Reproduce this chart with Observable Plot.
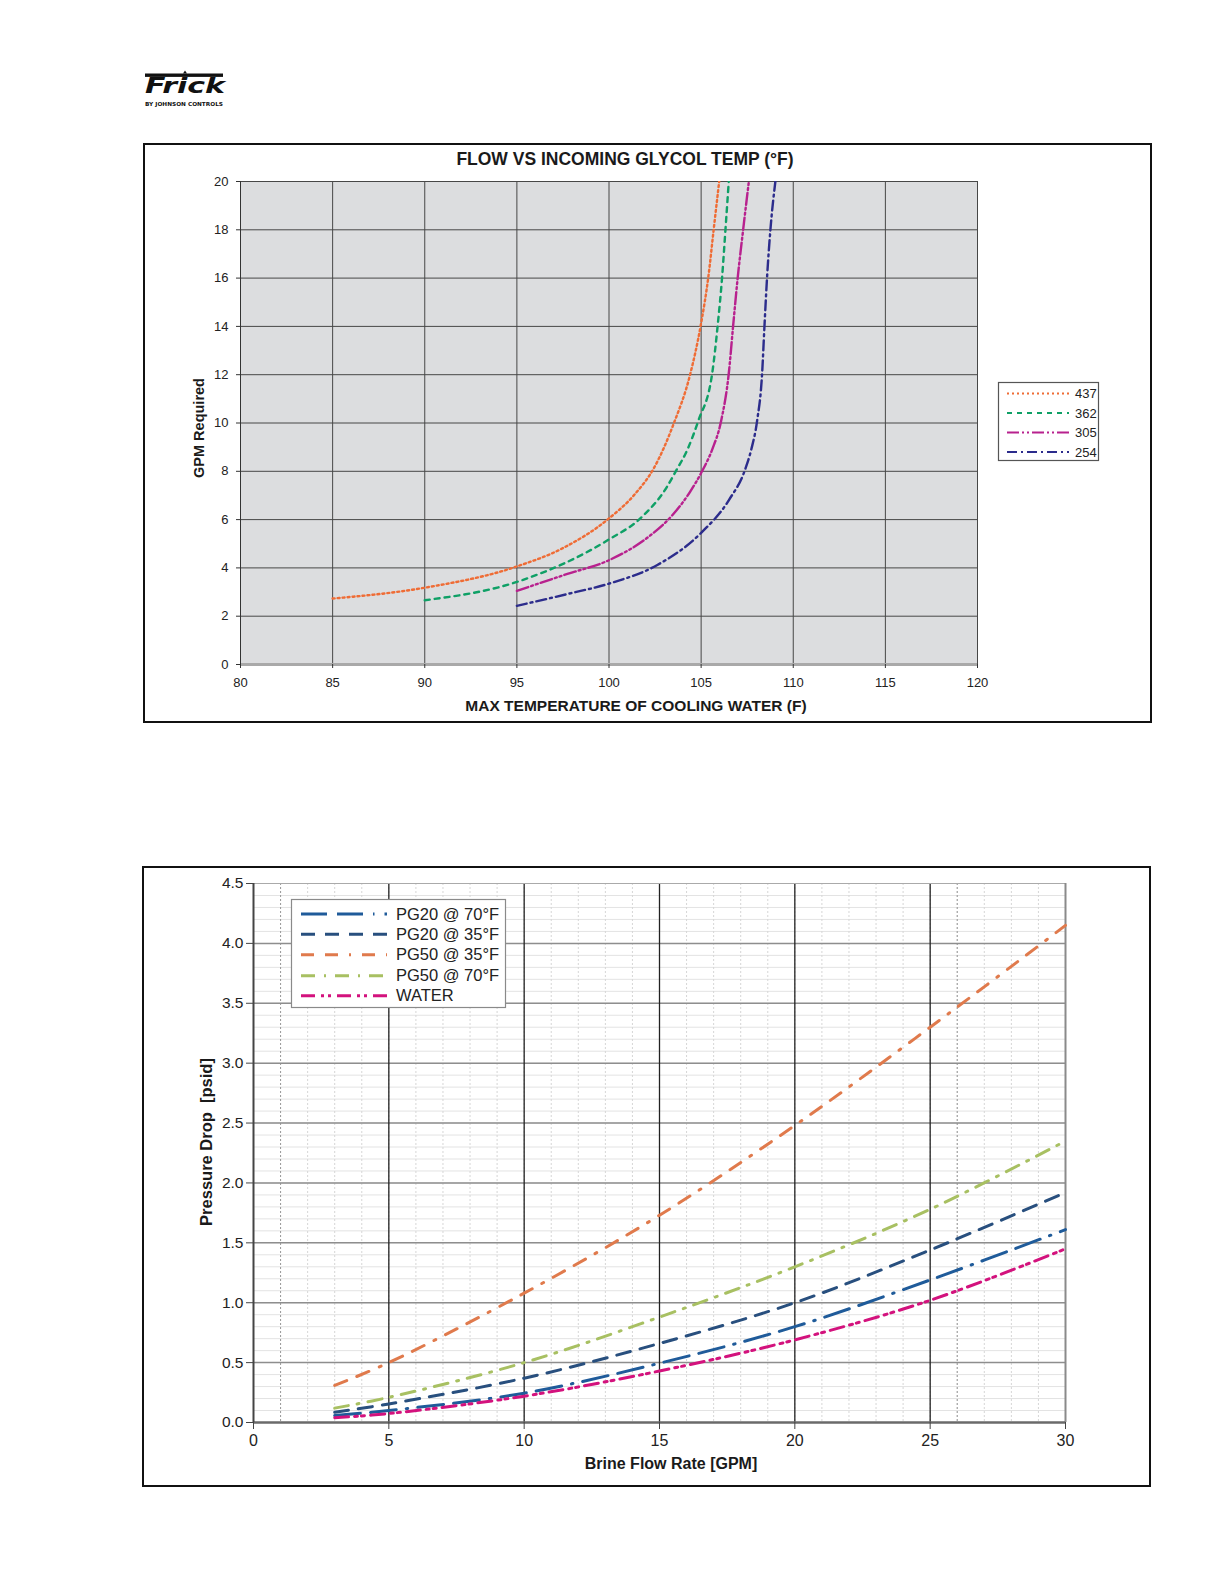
<!DOCTYPE html>
<html><head><meta charset="utf-8">
<script src="https://cdn.jsdelivr.net/npm/d3@7"></script>
<script src="https://cdn.jsdelivr.net/npm/@observablehq/plot@0.6"></script>
<style>
body{margin:0;background:#fff;}
#page{position:relative;width:1224px;height:1584px;overflow:hidden;font-family:"Liberation Sans",Arial,sans-serif;color:#222;background:#fff;}
.abs{position:absolute;}
.box{position:absolute;border:2px solid #111;box-sizing:border-box;}
.ctr{position:absolute;transform:translate(-50%,-50%);white-space:pre;line-height:1;font-weight:bold;color:#1a1a1a;}
.rot{transform:translate(-50%,-50%) rotate(-90deg);}
svg{overflow:visible;}
</style></head><body><div id="page"></div>
<script>
// ---------- DATA: top chart ----------
const topXTicks = [80, 85, 90, 95, 100, 105, 110, 115, 120];
const topYTicks = [0, 2, 4, 6, 8, 10, 12, 14, 16, 18, 20];
const topSeries = ["437", "362", "305", "254"];
const t437x = [85, 90, 95, 97.5, 100, 101.4, 102.45, 103.5, 104.4, 104.98, 105.4, 105.68, 105.98];
const t437y = [2.73, 3.18, 4.06, 4.82, 6.05, 7.05, 8.15, 9.95, 12.0, 14.05, 16.1, 18.0, 20.0];
const t362x = [90, 95, 100, 101.7, 103.15, 103.66, 104.24, 104.85, 105.6, 105.9, 106.14, 106.32, 106.5];
const t362y = [2.66, 3.42, 5.18, 6.05, 7.36, 8.05, 8.87, 10.1, 12.05, 14.05, 16.05, 18.0, 20.0];
const t305x = [95, 97.7, 100, 102.25, 103.4, 104.4, 105.05, 105.6, 106.09, 106.5, 106.74, 106.99, 107.28, 107.59];
const t305y = [3.05, 3.74, 4.32, 5.35, 6.15, 7.15, 8.0, 8.9, 10.1, 12.05, 14.05, 16.05, 18.0, 20.0];
const t254x = [95, 97.7, 100, 102.6, 105, 106.5, 107.4, 107.72, 108.04, 108.31, 108.44, 108.58, 108.76, 109.03];
const t254y = [2.43, 2.91, 3.35, 4.11, 5.45, 6.80, 8.1, 8.9, 10.1, 12.05, 14.05, 16.05, 18.0, 20.0];

// ---------- DATA: bottom chart ----------
const botXTicks = [0, 5, 10, 15, 20, 25, 30];
const botYTicks = [0, 0.5, 1.0, 1.5, 2.0, 2.5, 3.0, 3.5, 4.0, 4.5];
const botSeries = ["PG20 @ 70°F", "PG20 @ 35°F", "PG50 @ 35°F", "PG50 @ 70°F", "WATER"];
const flowGPM = [3, 5, 10, 15, 20, 25, 30];
const pg20at70 = [0.058, 0.10, 0.245, 0.495, 0.80, 1.19, 1.61];
const pg20at35 = [0.086, 0.155, 0.37, 0.66, 1.00, 1.44, 1.92];
const pg50at35 = [0.31, 0.50, 1.08, 1.73, 2.48, 3.30, 4.15];
const pg50at70 = [0.12, 0.21, 0.50, 0.88, 1.30, 1.78, 2.35];
const water    = [0.04, 0.075, 0.22, 0.43, 0.69, 1.02, 1.45];

// ---------- STYLES ----------
const topStyle = {
  "437": {color: "#ef6c35", dash: "2,3"},
  "362": {color: "#0fa066", dash: "5,5"},
  "305": {color: "#b8218e", dash: "12,3,2,3,2,3"},
  "254": {color: "#2c2c8c", dash: "10,4,2,4"}
};
const botStyle = {
  "PG20 @ 70°F": {color: "#1f5b9a", dash: "26,10,26,10,1.5,10"},
  "PG20 @ 35°F": {color: "#284f7e", dash: "14,10"},
  "PG50 @ 35°F": {color: "#e07a4c", dash: "13,11,13,11,2,11"},
  "PG50 @ 70°F": {color: "#a8c062", dash: "14,9,2,9"},
  "WATER":       {color: "#d3127d", dash: "14,6,3,4,3,6"}
};

const topXs = [t437x, t362x, t305x, t254x], topYs = [t437y, t362y, t305y, t254y];
const topRows = topSeries.map((s, i) => topXs[i].map((x, j) => ({series: s, x, y: topYs[i][j]})));
const botVals = [pg20at70, pg20at35, pg50at35, pg50at70, water];
const botRows = botSeries.map((s, i) => flowGPM.map((x, j) => ({series: s, x, y: botVals[i][j]})));

const page = document.getElementById("page");
const W = 1224;
const baseStyle = {fontFamily: "Liberation Sans, Arial, sans-serif", color: "#222", background: "transparent", overflow: "visible"};

// ---------- TOP PLOT ----------
const topH = 730;
const topPlot = Plot.plot({
  width: W, height: topH,
  marginLeft: 240, marginRight: W - 977, marginTop: 181, marginBottom: topH - 664,
  x: {domain: [80, 120]}, y: {domain: [0, 20]},
  style: baseStyle,
  marks: [
    Plot.frame({fill: "#dcdddf", stroke: "none"}),
    Plot.gridX(topXTicks.slice(1), {stroke: "#474747", strokeOpacity: 1, strokeWidth: 1}),
    Plot.gridY(topYTicks.slice(1), {stroke: "#474747", strokeOpacity: 1, strokeWidth: 1}),
    Plot.ruleY([0], {stroke: "#a9a9a9", strokeWidth: 3}),
    Plot.ruleX([80], {stroke: "#333", strokeWidth: 1}),
    ...topRows.map((rows, i) => Plot.line(rows, {
      x: "x", y: "y", curve: "monotone-x", clip: "frame",
      stroke: topStyle[topSeries[i]].color, strokeWidth: 2.4,
      strokeDasharray: topStyle[topSeries[i]].dash
    })),
    Plot.axisX(topXTicks, {tickSize: 4, tickPadding: 9, fontSize: 13, label: null, stroke: "#333"}),
    Plot.axisY(topYTicks, {tickSize: 4, tickPadding: 8, fontSize: 13, label: null, stroke: "#333"})
  ]
});
topPlot.style.position = "absolute"; topPlot.style.left = "0px"; topPlot.style.top = "0px";
page.appendChild(topPlot);

// ---------- BOTTOM PLOT ----------
const botTop = 800, botH = 700;
const xMinor = d3.range(1, 30);
const yMinor = d3.range(1, 45).map(d => d / 10);
const xDotted = [1, 26];
const botPlot = Plot.plot({
  width: W, height: botH,
  marginLeft: 253, marginRight: W - 1065, marginTop: 883 - botTop, marginBottom: botTop + botH - 1422,
  x: {domain: [0, 30]}, y: {domain: [0, 4.5]},
  style: baseStyle,
  marks: [
    Plot.gridY(yMinor, {stroke: "#e3e3e3", strokeOpacity: 1, strokeWidth: 1}),
    Plot.gridX(xMinor, {stroke: "#d6d6d6", strokeOpacity: 1, strokeWidth: 1, strokeDasharray: "2,2"}),
    Plot.gridX(xDotted, {stroke: "#9a9a9a", strokeOpacity: 1, strokeWidth: 1, strokeDasharray: "2,2"}),
    Plot.gridY(botYTicks.slice(1, -1), {stroke: "#8e8e8e", strokeOpacity: 1, strokeWidth: 1.5}),
    Plot.gridX(botXTicks.slice(1, -1), {stroke: "#222", strokeOpacity: 1, strokeWidth: 1.3}),
    Plot.ruleY([4.5], {stroke: "#aaa", strokeWidth: 1}),
    Plot.ruleX([30], {stroke: "#8a8a8a", strokeWidth: 2}),
    Plot.ruleY([0], {stroke: "#6a6a6a", strokeWidth: 2.5}),
    Plot.ruleX([0], {stroke: "#444", strokeWidth: 2}),
    ...botRows.map((rows, i) => Plot.line(rows, {
      x: "x", y: "y", curve: "catmull-rom",
      stroke: botStyle[botSeries[i]].color, strokeWidth: 3,
      strokeDasharray: botStyle[botSeries[i]].dash
    })),
    Plot.axisX(botXTicks, {tickSize: 7, tickPadding: 5, fontSize: 16, label: null, stroke: "#444"}),
    Plot.axisY(botYTicks, {tickSize: 7, tickPadding: 3, fontSize: 15.5, label: null, stroke: "#444", tickFormat: d => d.toFixed(1)})
  ]
});
botPlot.style.position = "absolute"; botPlot.style.left = "0px"; botPlot.style.top = botTop + "px";
page.appendChild(botPlot);

// ---------- FRAMES, TEXT, LEGENDS ----------
function addBox(l, t, w, h) {
  const d = document.createElement("div");
  d.className = "box";
  Object.assign(d.style, {left: l + "px", top: t + "px", width: w + "px", height: h + "px"});
  page.appendChild(d);
}
addBox(143, 143, 1009, 580);
addBox(142, 866, 1009, 621);

function addText(txt, x, y, size, rot) {
  const d = document.createElement("div");
  d.className = "ctr" + (rot ? " rot" : "");
  d.textContent = txt;
  Object.assign(d.style, {left: x + "px", top: y + "px", fontSize: size + "px"});
  page.appendChild(d);
}
addText("FLOW VS INCOMING GLYCOL TEMP (°F)", 625, 160, 17.5);
addText("MAX TEMPERATURE OF COOLING WATER (F)", 636, 706, 15.5);
addText("GPM Required", 199, 428, 14.5, true);
addText("Brine Flow Rate [GPM]", 671, 1464, 16);
addText("Pressure Drop  [psid]", 206, 1142, 16.5, true);

const NS = "http://www.w3.org/2000/svg";
function legend(l, t, w, h, series, styles, rowY, x1, x2, tx, fs, border, sw) {
  const svg = document.createElementNS(NS, "svg");
  svg.setAttribute("width", w); svg.setAttribute("height", h);
  Object.assign(svg.style, {position: "absolute", left: l + "px", top: t + "px"});
  const r = document.createElementNS(NS, "rect");
  r.setAttribute("x", 0.5); r.setAttribute("y", 0.5); r.setAttribute("width", w - 1); r.setAttribute("height", h - 1);
  r.setAttribute("fill", "#fff"); r.setAttribute("stroke", border); r.setAttribute("stroke-width", 1.2);
  svg.appendChild(r);
  series.forEach((s, i) => {
    const ln = document.createElementNS(NS, "line");
    ln.setAttribute("x1", x1); ln.setAttribute("x2", x2);
    ln.setAttribute("y1", rowY[i]); ln.setAttribute("y2", rowY[i]);
    ln.setAttribute("stroke", styles[s].color); ln.setAttribute("stroke-width", sw);
    ln.setAttribute("stroke-dasharray", styles[s].dash);
    svg.appendChild(ln);
    const tx_ = document.createElementNS(NS, "text");
    tx_.setAttribute("x", tx); tx_.setAttribute("y", rowY[i]);
    tx_.setAttribute("dy", "0.35em");
    tx_.setAttribute("font-size", fs);
    tx_.setAttribute("font-family", "Liberation Sans, Arial, sans-serif");
    tx_.setAttribute("fill", "#222");
    tx_.textContent = s;
    svg.appendChild(tx_);
  });
  page.appendChild(svg);
}
legend(998, 382, 101, 79, topSeries, topStyle, [11.5, 31, 50.5, 70], 9, 71, 77, 13, "#555", 2.2);
legend(291, 899, 215, 109, botSeries, botStyle, [15, 35.3, 55.7, 76.7, 96.7], 10, 96, 105, 16.5, "#8a8a8a", 3);

// ---------- LOGO ----------
const logo = document.createElementNS(NS, "svg");
logo.setAttribute("width", 95); logo.setAttribute("height", 50);
Object.assign(logo.style, {position: "absolute", left: "140px", top: "65px"});
logo.innerHTML = `
  <rect x="5" y="8.5" width="78" height="3.4" fill="#111"/>
  <path d="M43 8.5 L45 5.5 L47 8.5 Z" fill="#111"/>
  <text x="5" y="28" font-family="DejaVu Sans, sans-serif" font-weight="bold" font-style="italic" font-size="22" textLength="80" lengthAdjust="spacingAndGlyphs" fill="#111">Frick</text>
  <text x="5" y="41" font-family="DejaVu Sans, sans-serif" font-weight="bold" font-size="5.5" textLength="78" lengthAdjust="spacingAndGlyphs" fill="#111">BY JOHNSON CONTROLS</text>`;
page.appendChild(logo);
</script></body></html>
